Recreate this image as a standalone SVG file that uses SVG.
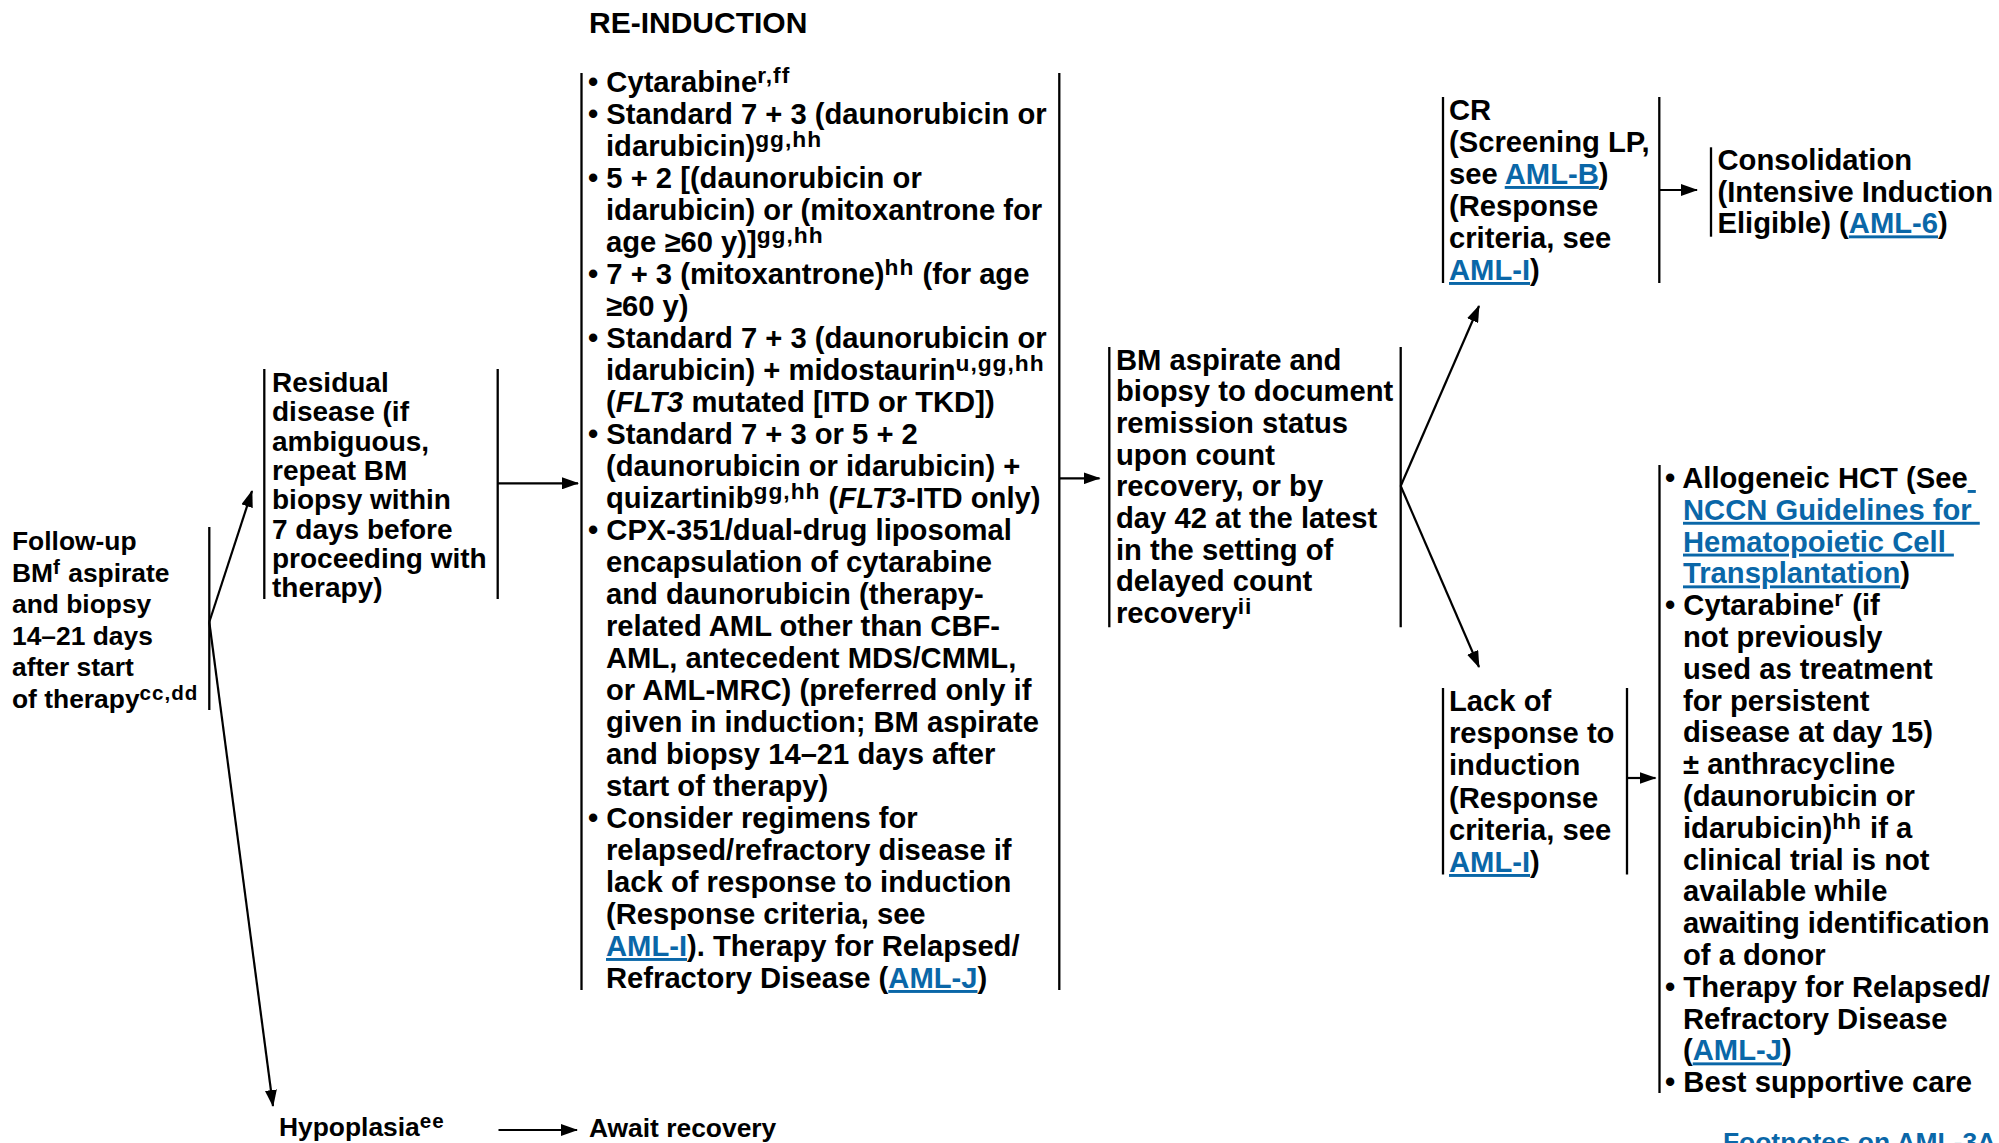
<svg xmlns="http://www.w3.org/2000/svg" width="1999" height="1143" viewBox="0 0 1999 1143">
<style>
text{font-family:"Liberation Sans",Arial,Helvetica,sans-serif;font-weight:bold;fill:#000}
.f26{font-size:26.4px}
.f28{font-size:28px}
.f29{font-size:29.2px}
.f30{font-size:30px}
.sup{font-size:0.78em;letter-spacing:1px}
.it{font-style:italic}
.lnk{fill:#0a67a8;text-decoration:underline}
.bar{stroke:#000;stroke-width:2.3;fill:none}
.con{stroke:#000;stroke-width:2.2;fill:none;marker-end:url(#ah)}
</style>
<defs>
<marker id="ah" markerUnits="userSpaceOnUse" markerWidth="17" markerHeight="12" viewBox="0 0 17 12" refX="16" refY="6" orient="auto">
<path d="M0,0 L17,6 L0,12 z" fill="#000"/>
</marker>
</defs>
<rect width="1999" height="1143" fill="#fff"/>

<text id="heading" class="f30" x="589" y="33">RE-INDUCTION</text>

<g id="n-followup">
<line class="bar" x1="209.3" y1="527" x2="209.3" y2="710"/>
<text class="f26">
<tspan x="12" y="550">Follow-up</tspan>
<tspan x="12" y="581.5">BM<tspan class="sup" dy="-8">f</tspan><tspan dy="8"> aspirate</tspan></tspan>
<tspan x="12" y="613">and biopsy</tspan>
<tspan x="12" y="644.5">14–21 days</tspan>
<tspan x="12" y="676">after start</tspan>
<tspan x="12" y="707.5">of therapy<tspan class="sup" dy="-8">cc,dd</tspan></tspan>
</text>
</g>

<g id="n-residual">
<line class="bar" x1="264.3" y1="369" x2="264.3" y2="599"/>
<line class="bar" x1="497.7" y1="369" x2="497.7" y2="599"/>
<text class="f28">
<tspan x="272" y="392">Residual</tspan>
<tspan x="272" y="421.3">disease (if</tspan>
<tspan x="272" y="450.6">ambiguous,</tspan>
<tspan x="272" y="479.9">repeat BM</tspan>
<tspan x="272" y="509.2">biopsy within</tspan>
<tspan x="272" y="538.5">7 days before</tspan>
<tspan x="272" y="567.8">proceeding with</tspan>
<tspan x="272" y="597.1">therapy)</tspan>
</text>
</g>

<g id="n-reinduction">
<line class="bar" x1="581.5" y1="73" x2="581.5" y2="990"/>
<line class="bar" x1="1059.3" y1="73" x2="1059.3" y2="990"/>
<text class="f29">
<tspan x="588" y="92">• Cytarabine<tspan class="sup" dy="-9">r,ff</tspan></tspan>
<tspan x="588" y="124">• Standard 7 + 3 (daunorubicin or</tspan>
<tspan x="606" y="156">idarubicin)<tspan class="sup" dy="-9">gg,hh</tspan></tspan>
<tspan x="588" y="188">• 5 + 2 [(daunorubicin or</tspan>
<tspan x="606" y="220">idarubicin) or (mitoxantrone for</tspan>
<tspan x="606" y="252">age ≥60 y)]<tspan class="sup" dy="-9">gg,hh</tspan></tspan>
<tspan x="588" y="284">• 7 + 3 (mitoxantrone)<tspan class="sup" dy="-9">hh</tspan><tspan dy="9"> (for age</tspan></tspan>
<tspan x="606" y="316">≥60 y)</tspan>
<tspan x="588" y="348">• Standard 7 + 3 (daunorubicin or</tspan>
<tspan x="606" y="380">idarubicin) + midostaurin<tspan class="sup" dy="-9">u,gg,hh</tspan></tspan>
<tspan x="606" y="412">(<tspan class="it">FLT3</tspan> mutated [ITD or TKD])</tspan>
<tspan x="588" y="444">• Standard 7 + 3 or 5 + 2</tspan>
<tspan x="606" y="476">(daunorubicin or idarubicin) +</tspan>
<tspan x="606" y="508">quizartinib<tspan class="sup" dy="-9">gg,hh</tspan><tspan dy="9"> (</tspan><tspan class="it">FLT3</tspan>-ITD only)</tspan>
<tspan x="588" y="540">• CPX-351/dual-drug liposomal</tspan>
<tspan x="606" y="572">encapsulation of cytarabine</tspan>
<tspan x="606" y="604">and daunorubicin (therapy-</tspan>
<tspan x="606" y="636">related AML other than CBF-</tspan>
<tspan x="606" y="668">AML, antecedent MDS/CMML,</tspan>
<tspan x="606" y="700">or AML-MRC) (preferred only if</tspan>
<tspan x="606" y="732">given in induction; BM aspirate</tspan>
<tspan x="606" y="764">and biopsy 14–21 days after</tspan>
<tspan x="606" y="796">start of therapy)</tspan>
<tspan x="588" y="828">• Consider regimens for</tspan>
<tspan x="606" y="860">relapsed/refractory disease if</tspan>
<tspan x="606" y="892">lack of response to induction</tspan>
<tspan x="606" y="924">(Response criteria, see</tspan>
<tspan x="606" y="956"><tspan class="lnk">AML-I</tspan>). Therapy for Relapsed/</tspan>
<tspan x="606" y="988">Refractory Disease (<tspan class="lnk">AML-J</tspan>)</tspan>
</text>
</g>

<g id="n-bm">
<line class="bar" x1="1109.3" y1="347" x2="1109.3" y2="627.3"/>
<line class="bar" x1="1400.7" y1="347" x2="1400.7" y2="627.3"/>
<text class="f29">
<tspan x="1116" y="369.5">BM aspirate and</tspan>
<tspan x="1116" y="401.2">biopsy to document</tspan>
<tspan x="1116" y="432.9">remission status</tspan>
<tspan x="1116" y="464.6">upon count</tspan>
<tspan x="1116" y="496.3">recovery, or by</tspan>
<tspan x="1116" y="528">day 42 at the latest</tspan>
<tspan x="1116" y="559.7">in the setting of</tspan>
<tspan x="1116" y="591.4">delayed count</tspan>
<tspan x="1116" y="623.1">recovery<tspan class="sup" dy="-9">ii</tspan></tspan>
</text>
</g>

<g id="n-cr">
<line class="bar" x1="1443" y1="97" x2="1443" y2="283"/>
<line class="bar" x1="1659.3" y1="97" x2="1659.3" y2="283"/>
<text class="f29">
<tspan x="1449" y="120">CR</tspan>
<tspan x="1449" y="152">(Screening LP,</tspan>
<tspan x="1449" y="184">see <tspan class="lnk">AML-B</tspan>)</tspan>
<tspan x="1449" y="216">(Response</tspan>
<tspan x="1449" y="248">criteria, see</tspan>
<tspan x="1449" y="280"><tspan class="lnk">AML-I</tspan>)</tspan>
</text>
</g>

<g id="n-consolidation">
<line class="bar" x1="1711" y1="147.3" x2="1711" y2="236.7"/>
<text class="f29">
<tspan x="1717.5" y="170">Consolidation</tspan>
<tspan x="1717.5" y="201.7">(Intensive Induction</tspan>
<tspan x="1717.5" y="233.4">Eligible) (<tspan class="lnk">AML-6</tspan>)</tspan>
</text>
</g>

<g id="n-lack">
<line class="bar" x1="1443" y1="688" x2="1443" y2="874.5"/>
<line class="bar" x1="1627" y1="688" x2="1627" y2="874.5"/>
<text class="f29">
<tspan x="1449" y="711">Lack of</tspan>
<tspan x="1449" y="743.2">response to</tspan>
<tspan x="1449" y="775.4">induction</tspan>
<tspan x="1449" y="807.6">(Response</tspan>
<tspan x="1449" y="839.8">criteria, see</tspan>
<tspan x="1449" y="872"><tspan class="lnk">AML-I</tspan>)</tspan>
</text>
</g>

<g id="n-options">
<line class="bar" x1="1659.5" y1="465" x2="1659.5" y2="1093"/>
<text class="f29" xml:space="preserve"><tspan x="1665" y="488">• Allogeneic HCT (See<tspan class="lnk"> </tspan></tspan><tspan x="1683" y="519.8" class="lnk">NCCN Guidelines for </tspan><tspan x="1683" y="551.6" class="lnk">Hematopoietic Cell </tspan><tspan x="1683" y="583.4"><tspan class="lnk">Transplantation</tspan>)</tspan><tspan x="1665" y="615.2">• Cytarabine<tspan class="sup" dy="-9">r</tspan><tspan dy="9"> (if</tspan></tspan><tspan x="1683" y="647">not previously</tspan><tspan x="1683" y="678.8">used as treatment</tspan><tspan x="1683" y="710.6">for persistent</tspan><tspan x="1683" y="742.4">disease at day 15)</tspan><tspan x="1683" y="774.2">± anthracycline</tspan><tspan x="1683" y="806">(daunorubicin or</tspan><tspan x="1683" y="837.8">idarubicin)<tspan class="sup" dy="-9">hh</tspan><tspan dy="9"> if a</tspan></tspan><tspan x="1683" y="869.6">clinical trial is not</tspan><tspan x="1683" y="901.4">available while</tspan><tspan x="1683" y="933.2">awaiting identification</tspan><tspan x="1683" y="965">of a donor</tspan><tspan x="1665" y="996.8">• Therapy for Relapsed/</tspan><tspan x="1683" y="1028.6">Refractory Disease</tspan><tspan x="1683" y="1060.4">(<tspan class="lnk">AML-J</tspan>)</tspan><tspan x="1665" y="1092.2">• Best supportive care</tspan></text>
</g>

<g id="n-hypoplasia">
<text class="f26" x="279" y="1136">Hypoplasia<tspan class="sup" dy="-8">ee</tspan></text>
</g>

<g id="n-await">
<text class="f26" x="589" y="1137">Await recovery</text>
</g>

<g id="connectors">
<line class="con" x1="209.3" y1="622" x2="252" y2="491"/>
<line class="con" x1="209.3" y1="622" x2="273" y2="1106"/>
<line class="con" x1="497.7" y1="483.3" x2="578" y2="483.3"/>
<line class="con" x1="1059.3" y1="478.3" x2="1099.5" y2="478.3"/>
<line class="con" x1="1400.7" y1="486" x2="1479" y2="306"/>
<line class="con" x1="1400.7" y1="486" x2="1479" y2="667"/>
<line class="con" x1="1659.3" y1="190" x2="1697" y2="190"/>
<line class="con" x1="1627" y1="778" x2="1655.5" y2="778"/>
<line class="con" x1="498.5" y1="1130" x2="577" y2="1130"/>
</g>

<text id="footnote" x="1723" y="1151" style="font-size:26.4px;fill:#0a67a8">Footnotes on AML-3A</text>
</svg>
